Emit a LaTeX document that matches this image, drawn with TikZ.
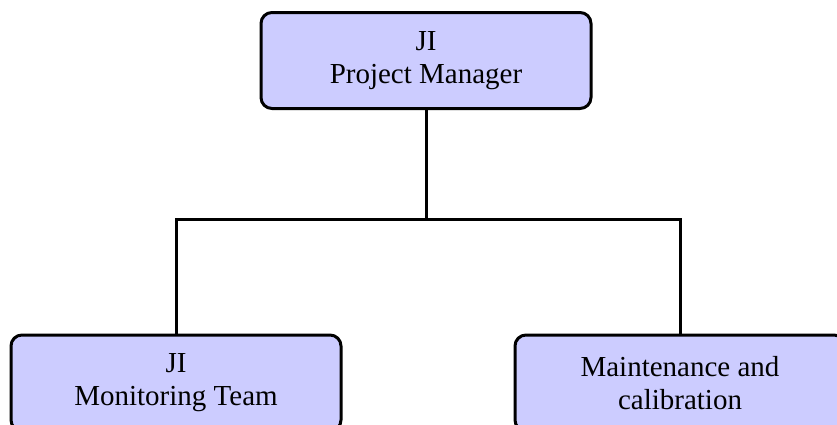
\documentclass[tikz,border=0pt]{standalone}
\usepackage{fontspec}
\setmainfont{Liberation Serif}
\definecolor{boxfill}{RGB}{204,204,255}
\begin{document}
\begin{tikzpicture}[x=1pt,y=-1pt,
  orgbox/.style={draw=black,fill=boxfill,line width=3pt,rounded corners=11pt,
    minimum width=330pt,minimum height=96pt,align=center,inner sep=0pt,
    font=\fontsize{29}{33}\selectfont},
  link/.style={line width=3pt}]
\useasboundingbox (0,0) rectangle (837,424);
\clip (0,0) rectangle (837,424);
\node[orgbox] (top) at (426,60.5) {JI\\Project Manager};
\node[orgbox] (left) at (176,383) {JI\\Monitoring Team};
\node[orgbox] (right) at (680,383) {Maintenance and\\calibration};
\coordinate (j) at (426,219);
\draw[link] (top.south) -- (j);
\draw[link] (left.north) |- (j) -| (right.north);
\end{tikzpicture}
\end{document}
